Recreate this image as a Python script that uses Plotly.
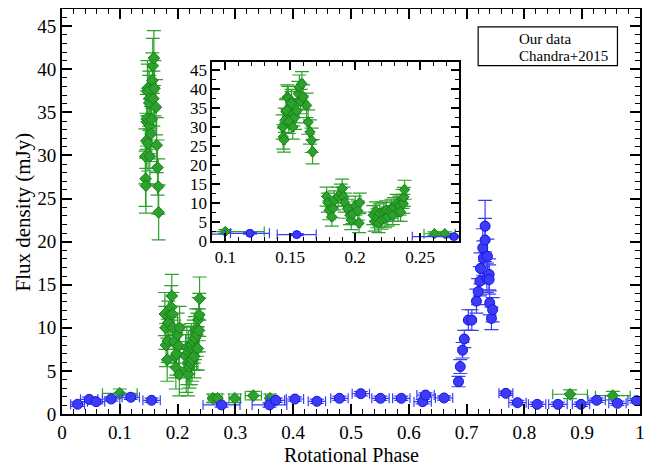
import plotly.graph_objects as go

# ---- Our data (blue circles) ----
our_phase = [0.027, 0.047, 0.059, 0.085, 0.119, 0.155, 0.276, 0.359, 0.370, 0.403, 0.441,
             0.480, 0.517, 0.551, 0.587, 0.624, 0.629, 0.661,
             0.686, 0.689, 0.693, 0.696, 0.703, 0.709, 0.717, 0.720, 0.723, 0.724, 0.728,
             0.729, 0.732, 0.732, 0.735, 0.736, 0.739, 0.739, 0.740, 0.743, 0.745,
             0.768, 0.788, 0.822, 0.858, 0.898, 0.925, 0.961, 0.994]
our_flux = [1.13, 1.70, 1.43, 1.74, 1.94, 1.59, 1.05, 1.05, 1.59, 1.74, 1.47,
            1.82, 2.36, 1.82, 1.82, 1.43, 2.20, 1.86,
            3.76, 5.5, 7.4, 8.7, 10.9, 10.9, 13.1, 14.2, 15.4, 16.9, 19.3,
            18.1, 20.2, 21.8, 15.8, 18.3, 16.2, 15.6, 12.9, 11.1, 12.1,
            2.40, 1.32, 1.12, 1.12, 1.12, 1.59, 1.24, 1.55]
our_phase_err = [0.012, 0.015, 0.015, 0.015, 0.015, 0.015, 0.032, 0.030, 0.015, 0.015, 0.015,
                 0.015, 0.015, 0.015, 0.015, 0.015, 0.015, 0.015,
                 0.002, 0.002, 0.002, 0.002, 0.002, 0.002, 0.002, 0.002, 0.002, 0.002, 0.002,
                 0.002, 0.002, 0.002, 0.002, 0.002, 0.002, 0.002, 0.002, 0.002, 0.002,
                 0.012, 0.015, 0.015, 0.016, 0.015, 0.015, 0.015, 0.015]
our_flux_err = [0.25, 0.25, 0.25, 0.25, 0.25, 0.25, 0.25, 0.25, 0.25, 0.25, 0.25,
                0.25, 0.25, 0.25, 0.25, 0.25, 0.25, 0.25,
                0.6, 0.8, 0.9, 1.0, 1.2, 1.2, 1.4, 1.5, 1.7, 1.8, 2.2,
                2.0, 2.5, 3.0, 1.7, 2.0, 1.8, 1.7, 1.4, 1.3, 1.4,
                0.25, 0.25, 0.25, 0.25, 0.25, 0.25, 0.25, 0.25]

# ---- Chandra+2015 (green diamonds) ----
ch_phase = [0.100,
            0.1442, 0.1446, 0.1452, 0.1459, 0.1467, 0.1472, 0.1478, 0.1485, 0.1490, 0.1510,
            0.1510, 0.1520, 0.1523, 0.1537, 0.1550, 0.1562, 0.1570, 0.1580, 0.1590, 0.1600,
            0.1626, 0.1638, 0.1652, 0.1665, 0.1672,
            0.178, 0.179, 0.180, 0.182, 0.183, 0.184, 0.187, 0.189, 0.190, 0.191,
            0.192, 0.194, 0.196, 0.197, 0.198, 0.200, 0.202, 0.203, 0.2035,
            0.2139, 0.215, 0.216, 0.217, 0.218, 0.219, 0.2204, 0.222, 0.223, 0.224,
            0.225, 0.227, 0.228, 0.229, 0.230, 0.232, 0.233, 0.234, 0.235, 0.2365,
            0.237, 0.2375, 0.238,
            0.261, 0.269, 0.299, 0.331, 0.360, 0.879, 0.953]
ch_flux = [2.4,
           29.9, 27.3, 26.5, 31.7, 33.9, 34.3, 37.8, 37.4, 31.4, 36.6,
           36.1, 29.9, 33.4, 32.5, 34.2, 38.7, 40.4, 36.6, 41.3, 37.8,
           35.6, 31.2, 28.6, 26.4, 23.4,
           11.6, 10.0, 8.0, 6.3, 8.5, 10.6, 11.6, 12.4, 13.7, 11.6,
           10.0, 8.4, 6.7, 5.4, 7.0, 9.2, 7.9, 4.6, 10.0,
           6.7, 5.0, 7.7, 5.9, 4.6, 7.2, 5.5, 7.6, 5.9, 8.0,
           6.3, 7.6, 8.4, 6.7, 8.8, 9.7, 7.6, 9.2, 7.6, 11.0,
           9.7, 11.5, 13.4,
           1.82, 1.82, 1.82, 2.13, 1.82, 2.29, 2.13]
ch_phase_err = [0.030] + [0.001] * 67 + [0.008, 0.008, 0.010, 0.014, 0.008, 0.030, 0.030]
ch_flux_err = [0.5] + [3.2] * 25 + [2.5] * 42 + [0.5] * 7

# ---- axis ticks ----
main_x_ticks = [0, 0.1, 0.2, 0.3, 0.4, 0.5, 0.6, 0.7, 0.8, 0.9, 1]
main_x_labels = ["0", "0.1", "0.2", "0.3", "0.4", "0.5", "0.6", "0.7", "0.8", "0.9", "1"]
inset_x_ticks = [0.1, 0.15, 0.2, 0.25]
inset_x_labels = ["0.1", "0.15", "0.2", "0.25"]

BLUE_FILL = "rgb(60,60,248)"
BLUE_LINE = "rgb(20,20,230)"
GREEN_FILL = "rgb(45,160,45)"
GREEN_LINE = "rgb(20,130,20)"
FONT = "'Liberation Serif', 'Times New Roman', Times, serif"

fig = go.Figure()

for xa, ya, gsize, bsize in [("x", "y", 9, 10), ("x2", "y2", 8, 8)]:
    fig.add_trace(go.Scatter(
        x=ch_phase, y=ch_flux, mode="markers", xaxis=xa, yaxis=ya, showlegend=False,
        marker=dict(symbol="diamond", size=gsize, color=GREEN_FILL,
                    line=dict(color=GREEN_LINE, width=1)),
        error_x=dict(type="data", array=ch_phase_err, color=GREEN_FILL, thickness=1.2, width=5),
        error_y=dict(type="data", array=ch_flux_err, color=GREEN_FILL, thickness=1.2, width=7),
    ))
    fig.add_trace(go.Scatter(
        x=our_phase, y=our_flux, mode="markers", xaxis=xa, yaxis=ya, showlegend=False,
        marker=dict(symbol="circle", size=bsize, color=BLUE_FILL,
                    line=dict(color=BLUE_LINE, width=1)),
        error_x=dict(type="data", array=our_phase_err, color=BLUE_FILL, thickness=1.2, width=5),
        error_y=dict(type="data", array=our_flux_err, color=BLUE_FILL, thickness=1.2, width=7),
    ))

axis_common = dict(showline=True, linecolor="black", linewidth=2, mirror="allticks",
                   ticks="inside", tickcolor="black", tickwidth=1.5, showgrid=False,
                   zeroline=False, automargin=False)

# page body adds an 8px offset, so the figure is sized to fit the window
fig.update_layout(
    width=649, height=458,
    margin=dict(l=54, r=17, t=1, b=52),
    paper_bgcolor="white", plot_bgcolor="white",
    font=dict(family=FONT, color="black"),
    xaxis=dict(**axis_common, range=[0, 1], tickvals=main_x_ticks, ticktext=main_x_labels,
               ticklen=10, tickfont=dict(size=19, family=FONT),
               minor=dict(dtick=0.02, ticklen=5, tickwidth=1.2, tickcolor="black", ticks="inside")),
    yaxis=dict(**axis_common, range=[0, 47], dtick=5, ticklen=10, tickfont=dict(size=19, family=FONT),
               minor=dict(dtick=1, ticklen=5, tickwidth=1.2, tickcolor="black", ticks="inside")),
    xaxis2=dict(**axis_common, domain=[0.260, 0.687], anchor="y2", range=[0.09, 0.28],
                tickvals=inset_x_ticks, ticktext=inset_x_labels, ticklen=8,
                tickfont=dict(size=17, family=FONT),
                minor=dict(dtick=0.01, ticklen=4, tickwidth=1.2, tickcolor="black", ticks="inside")),
    yaxis2=dict(**axis_common, domain=[0.428, 0.869], anchor="x2", range=[0, 47], dtick=5,
                ticklen=8, tickfont=dict(size=17, family=FONT),
                minor=dict(dtick=2.5, ticklen=4, tickwidth=1.2, tickcolor="black", ticks="inside")),
)

# axis titles
fig.add_annotation(xref="paper", yref="paper", x=0.5, y=-0.101, text="Rotational Phase",
                   showarrow=False, xanchor="center", yanchor="middle", font=dict(size=20, family=FONT))
fig.add_annotation(xref="paper", yref="paper", x=-0.0675, y=0.5, text="Flux density (mJy)",
                   textangle=-90, showarrow=False, xanchor="center", yanchor="middle",
                   font=dict(size=21, family=FONT))

# inset background
fig.add_shape(type="rect", xref="paper", yref="paper", x0=0.260, x1=0.687, y0=0.428, y1=0.869,
              fillcolor="white", line=dict(width=0), layer="below")

# legend box (text only)
fig.add_shape(type="rect", xref="paper", yref="paper", x0=0.720, x1=0.961, y0=0.860, y1=0.956,
              line=dict(color="black", width=1.2), fillcolor="white")
fig.add_annotation(xref="paper", yref="paper", x=0.789, y=0.926, text="Our data",
                   showarrow=False, xanchor="left", yanchor="middle", borderpad=0,
                   font=dict(size=15, family=FONT))
fig.add_annotation(xref="paper", yref="paper", x=0.789, y=0.884, text="Chandra+2015",
                   showarrow=False, xanchor="left", yanchor="middle", borderpad=0,
                   font=dict(size=15, family=FONT))

fig.write_html("out.html")
